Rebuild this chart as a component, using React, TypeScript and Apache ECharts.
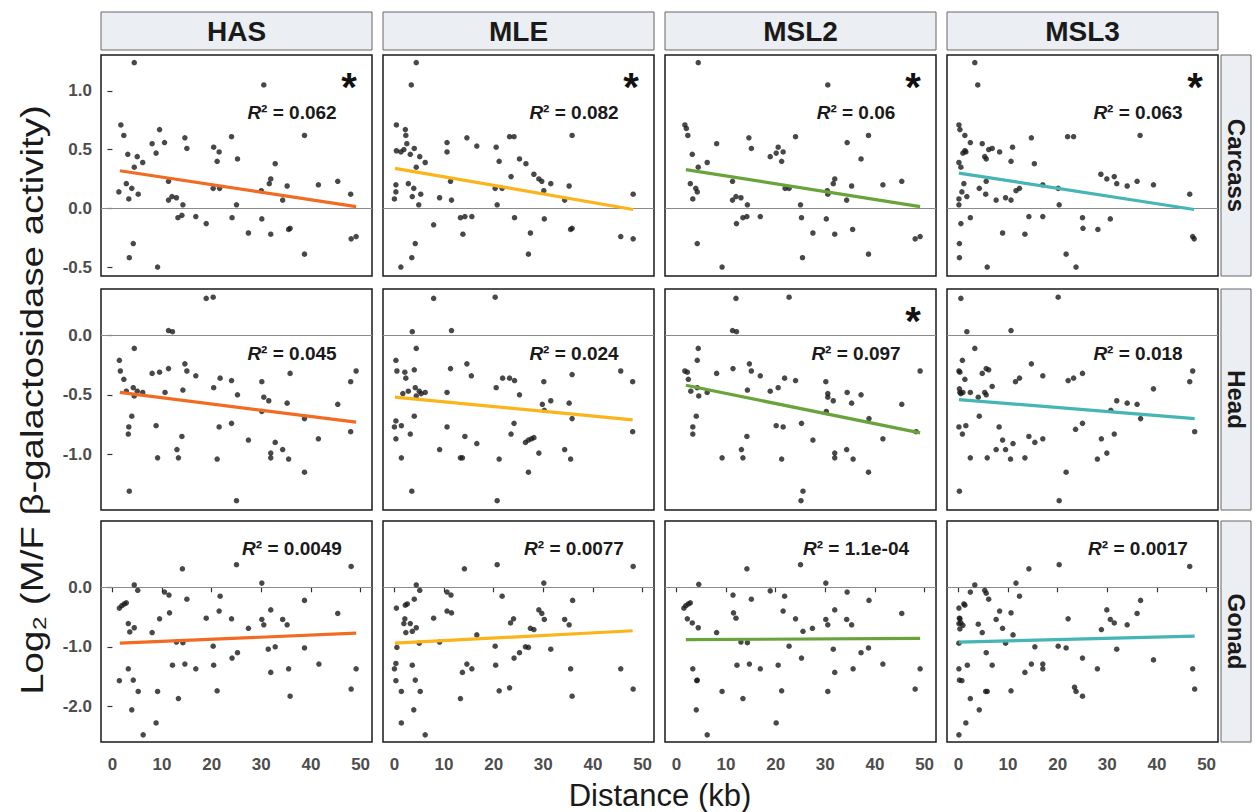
import React, { useEffect, useRef } from "react";
import * as echarts from "echarts";

const COLS = ["HAS", "MLE", "MSL2", "MSL3"];
const ROWS = ["Carcass", "Head", "Gonad"];
const COLORS = ["#f26b23", "#fbb419", "#68a43a", "#45b5b5"];

const X_TICKS = [0, 10, 20, 30, 40, 50];
const X_RANGE = [-2.3, 52.3];
const Y_RANGES = [[-0.576, 1.305], [-1.468, 0.389], [-2.6, 1.114]];
const Y_TICKS = [[-0.5, 0, 0.5, 1.0], [-1.0, -0.5, 0], [-2, -1, 0]];

const R2_LABELS = [
  ["0.062", "0.082", "0.06", "0.063"],
  ["0.045", "0.024", "0.097", "0.018"],
  ["0.0049", "0.0077", "1.1e-04", "0.0017"],
];
const SIGNIFICANT = [
  [true, true, true, true],
  [false, false, true, false],
  [false, false, false, false],
];

// fitted lines: [x0, y0, x1, y1]
const FITS = [
  [[1.5, 0.32, 49.1, 0.014], [0.1, 0.34, 48.1, -0.01], [1.9, 0.33, 49.1, 0.014], [0.1, 0.30, 47.5, -0.01]],
  [[1.5, -0.48, 49.1, -0.73], [0.1, -0.52, 48.0, -0.71], [1.9, -0.42, 49.1, -0.82], [0.1, -0.54, 47.6, -0.70]],
  [[1.5, -0.94, 49.1, -0.77], [0.1, -0.94, 48.0, -0.73], [1.9, -0.88, 49.1, -0.86], [0.1, -0.92, 47.6, -0.82]],
];

const HAS_CARCASS = [[4.4,1.24],[30.5,1.05],[1.7,0.71],[2.3,0.62],[9.5,0.67],[38.7,0.62],[8.0,0.55],[10.5,0.56],[14.6,0.60],[15.0,0.51],[8.8,0.47],[3.1,0.46],[5.0,0.44],[6.1,0.39],[4.4,0.35],[20.4,0.52],[21.5,0.48],[21.1,0.40],[24.0,0.61],[25.2,0.42],[32.8,0.38],[2.8,0.21],[11.3,0.23],[31.9,0.25],[31.6,0.21],[1.3,0.14],[3.9,0.17],[3.3,0.08],[5.2,0.12],[20.3,0.17],[21.6,0.17],[30.0,0.15],[35.2,0.19],[41.5,0.20],[45.4,0.23],[48.0,0.12],[34.3,0.07],[11.3,0.07],[12.0,0.10],[12.9,0.09],[14.2,0.03],[25.0,0.03],[13.2,-0.08],[14.0,-0.06],[16.8,-0.07],[18.9,-0.13],[24.1,-0.08],[30.1,-0.09],[27.4,-0.21],[31.9,-0.22],[35.5,-0.18],[35.8,-0.17],[48.1,-0.26],[49.1,-0.24],[4.2,-0.30],[3.4,-0.42],[9.1,-0.50],[38.7,-0.39]];

const MLE_CARCASS = [[4.4,1.24],[3.4,1.05],[0.4,0.71],[2.2,0.67],[2.3,0.62],[2.5,0.55],[0.4,0.49],[1.3,0.48],[1.9,0.50],[3.2,0.46],[4.0,0.51],[5.1,0.44],[6.2,0.39],[4.4,0.35],[10.6,0.56],[10.6,0.48],[14.6,0.60],[16.6,0.53],[20.5,0.52],[21.1,0.40],[23.2,0.61],[24.1,0.61],[25.2,0.42],[26.5,0.38],[23.5,0.27],[28.1,0.29],[29.1,0.25],[29.7,0.23],[31.5,0.21],[35.8,0.62],[35.2,0.19],[30.1,0.15],[34.3,0.07],[20.3,0.17],[21.7,0.17],[20.7,0.03],[11.3,0.23],[2.8,0.21],[0.3,0.20],[0.3,0.14],[3.9,0.17],[3.6,0.10],[5.3,0.12],[0.0,0.08],[4.9,0.03],[9.1,0.09],[11.5,0.07],[7.9,-0.14],[13.3,-0.08],[14.2,-0.07],[15.6,-0.07],[13.8,-0.22],[24.2,-0.08],[30.2,-0.09],[27.4,-0.21],[35.5,-0.18],[35.8,-0.17],[27.0,-0.39],[45.6,-0.24],[48.1,-0.26],[48.1,0.12],[4.2,-0.30],[3.5,-0.42],[1.3,-0.50]];

const MSL2_CARCASS = [[4.4,1.24],[30.5,1.05],[1.7,0.71],[2.0,0.68],[2.3,0.62],[38.7,0.62],[8.1,0.55],[14.6,0.60],[15.1,0.51],[24.0,0.61],[34.4,0.56],[3.2,0.46],[6.2,0.39],[4.4,0.35],[18.9,0.44],[20.1,0.47],[20.5,0.52],[21.5,0.48],[21.2,0.40],[37.2,0.42],[2.8,0.21],[11.3,0.23],[31.9,0.25],[31.6,0.21],[3.9,0.17],[4.2,0.14],[3.3,0.08],[21.9,0.17],[22.7,0.17],[30.4,0.15],[30.5,0.12],[35.3,0.19],[41.6,0.20],[45.4,0.23],[34.3,0.07],[11.3,0.07],[12.0,0.10],[13.0,0.09],[14.3,0.03],[25.0,0.03],[12.1,-0.13],[13.4,-0.08],[14.2,-0.07],[16.9,-0.07],[25.2,-0.08],[30.2,-0.09],[27.5,-0.21],[31.9,-0.22],[35.5,-0.18],[48.1,-0.26],[49.1,-0.24],[4.2,-0.30],[9.2,-0.50],[38.7,-0.39],[25.4,-0.42]];

const MSL3_CARCASS = [[3.3,1.24],[3.9,1.05],[0.1,0.71],[0.3,0.67],[1.3,0.62],[2.4,0.56],[4.8,0.55],[36.6,0.62],[0.1,0.39],[0.5,0.35],[0.9,0.47],[1.3,0.49],[1.5,0.48],[5.3,0.44],[5.6,0.42],[6.1,0.50],[6.8,0.51],[8.3,0.48],[10.9,0.52],[10.6,0.40],[14.7,0.60],[15.3,0.38],[22.0,0.61],[23.2,0.61],[28.7,0.29],[29.9,0.25],[31.4,0.27],[31.9,0.21],[34.0,0.19],[36.0,0.23],[39.3,0.20],[1.1,0.21],[5.6,0.23],[0.7,0.14],[1.7,0.10],[0.1,0.08],[0.1,0.03],[4.2,0.17],[5.5,0.12],[7.6,0.07],[9.5,0.09],[10.6,0.07],[11.6,0.15],[12.3,0.17],[17.0,0.20],[20.1,0.17],[20.3,0.03],[46.6,0.12],[2.4,-0.08],[0.5,-0.13],[8.9,-0.21],[13.4,-0.22],[14.2,-0.07],[17.0,-0.07],[25.0,-0.08],[25.1,-0.17],[28.1,-0.18],[30.6,-0.09],[21.7,-0.39],[23.7,-0.50],[5.8,-0.50],[0.2,-0.30],[0.2,-0.42],[47.2,-0.24],[47.5,-0.26]];

const HAS_HEAD = [[18.9,0.31],[20.3,0.32],[11.3,0.04],[12.1,0.03],[4.4,-0.11],[1.4,-0.21],[1.6,-0.30],[2.3,-0.37],[2.8,-0.47],[4.2,-0.44],[4.4,-0.51],[5.0,-0.47],[6.1,-0.48],[8.0,-0.32],[9.5,-0.31],[11.3,-0.28],[14.6,-0.24],[15.0,-0.30],[16.8,-0.34],[10.6,-0.48],[14.2,-0.46],[20.4,-0.44],[21.7,-0.36],[24.0,-0.38],[25.2,-0.50],[30.1,-0.39],[30.5,-0.52],[31.5,-0.55],[35.8,-0.32],[35.2,-0.57],[48.0,-0.39],[49.1,-0.30],[45.4,-0.58],[38.7,-0.70],[3.9,-0.68],[3.3,-0.77],[3.2,-0.83],[8.8,-0.76],[14.0,-0.85],[13.0,-0.96],[9.1,-1.03],[13.3,-1.03],[21.5,-0.77],[24.0,-0.74],[21.1,-1.04],[27.4,-0.88],[32.8,-0.90],[31.9,-0.99],[31.9,-1.03],[34.3,-0.96],[35.5,-1.04],[41.5,-0.87],[48.0,-0.81],[38.7,-1.15],[3.4,-1.31],[25.0,-1.39],[30.1,-0.64]];

const MLE_HEAD = [[7.9,0.31],[20.3,0.32],[3.6,0.03],[11.5,0.04],[4.4,-0.11],[0.3,-0.21],[0.5,-0.30],[2.1,-0.31],[2.3,-0.36],[4.0,-0.29],[1.7,-0.49],[2.8,-0.47],[4.2,-0.44],[4.4,-0.51],[5.0,-0.47],[5.4,-0.49],[6.2,-0.48],[11.3,-0.28],[14.6,-0.24],[15.5,-0.34],[10.6,-0.48],[20.5,-0.44],[21.8,-0.36],[23.2,-0.36],[24.2,-0.38],[25.2,-0.50],[30.1,-0.39],[29.8,-0.58],[31.5,-0.55],[35.8,-0.33],[35.2,-0.57],[45.6,-0.30],[48.0,-0.39],[35.8,-0.70],[48.0,-0.81],[0.3,-0.72],[0.0,-0.77],[1.4,-0.76],[0.3,-0.87],[3.2,-0.83],[4.0,-0.68],[10.6,-0.77],[14.2,-0.85],[16.6,-0.91],[9.1,-0.96],[13.3,-1.03],[13.7,-1.03],[21.1,-1.04],[23.5,-0.83],[24.1,-0.74],[26.4,-0.90],[27.0,-0.88],[27.6,-0.87],[28.1,-0.86],[29.1,-0.99],[34.3,-0.96],[35.5,-1.04],[27.0,-1.15],[1.4,-1.03],[3.5,-1.31],[20.7,-1.39],[30.2,-0.63]];

const MSL2_HEAD = [[12.0,0.31],[22.7,0.32],[11.3,0.04],[12.1,0.03],[4.4,-0.11],[4.2,-0.21],[1.7,-0.30],[2.2,-0.31],[2.4,-0.37],[2.9,-0.47],[4.2,-0.44],[4.5,-0.51],[6.2,-0.48],[8.1,-0.32],[11.4,-0.28],[14.7,-0.24],[15.1,-0.30],[16.9,-0.34],[14.3,-0.46],[18.9,-0.47],[20.5,-0.44],[21.8,-0.36],[24.0,-0.38],[25.2,-0.74],[30.1,-0.39],[30.5,-0.49],[30.5,-0.52],[31.6,-0.55],[34.4,-0.48],[35.3,-0.57],[37.2,-0.50],[49.1,-0.30],[45.4,-0.58],[38.8,-0.70],[4.0,-0.68],[3.3,-0.77],[3.3,-0.83],[14.2,-0.85],[13.1,-0.96],[9.2,-1.03],[13.4,-1.03],[20.1,-0.76],[21.5,-0.77],[27.5,-0.88],[31.9,-0.99],[31.9,-1.03],[34.3,-0.96],[35.6,-1.04],[21.2,-1.04],[41.6,-0.87],[48.3,-0.81],[38.7,-1.15],[25.5,-1.31],[25.1,-1.39],[30.2,-0.64]];

const MSL3_HEAD = [[0.5,0.31],[20.1,0.32],[1.7,0.03],[10.6,0.04],[3.3,-0.11],[0.8,-0.21],[0.1,-0.30],[0.3,-0.31],[1.3,-0.37],[0.2,-0.45],[0.3,-0.48],[0.5,-0.49],[0.9,-0.48],[2.4,-0.48],[4.0,-0.52],[4.8,-0.32],[5.6,-0.28],[6.1,-0.29],[5.3,-0.48],[5.6,-0.50],[6.8,-0.43],[11.5,-0.39],[12.3,-0.36],[14.7,-0.24],[17.0,-0.34],[22.1,-0.38],[23.2,-0.36],[25.0,-0.32],[31.9,-0.55],[34.0,-0.57],[36.0,-0.58],[39.3,-0.45],[46.6,-0.39],[47.2,-0.30],[30.7,-0.63],[36.7,-0.70],[47.6,-0.81],[4.2,-0.68],[0.1,-0.77],[1.5,-0.76],[0.8,-0.83],[8.2,-0.77],[8.9,-0.88],[7.6,-0.96],[9.5,-0.96],[11.0,-0.91],[14.2,-0.85],[15.4,-0.90],[17.0,-0.87],[23.6,-0.79],[25.0,-0.74],[28.8,-0.87],[31.4,-0.83],[2.4,-1.03],[5.8,-1.03],[10.5,-1.04],[13.4,-1.03],[28.0,-1.04],[29.9,-0.99],[21.7,-1.15],[0.2,-1.31],[20.3,-1.39]];

const HAS_GONAD = [[4.4,0.04],[5.1,-0.05],[1.4,-0.35],[1.9,-0.31],[2.4,-0.28],[2.8,-0.26],[3.2,-0.61],[3.5,-0.75],[4.4,-0.68],[8.0,-0.76],[9.5,-0.53],[10.5,-0.08],[11.4,-0.13],[11.5,-0.43],[14.1,0.31],[15.0,-0.20],[12.9,-0.92],[14.2,-0.93],[18.9,-0.52],[21.5,-0.40],[21.7,-0.15],[24.0,-0.53],[25.0,0.38],[30.1,0.07],[30.1,-0.54],[30.5,-0.63],[31.9,-0.38],[27.4,-0.69],[34.3,-0.54],[35.2,-0.63],[38.7,-0.22],[45.4,-0.44],[48.1,0.35],[20.3,-0.99],[31.4,-1.04],[32.8,-1.00],[38.7,-1.02],[24.1,-1.19],[25.2,-1.10],[20.4,-1.31],[12.1,-1.31],[14.6,-1.29],[16.8,-1.37],[3.2,-1.37],[1.4,-1.57],[4.2,-1.56],[5.2,-1.75],[9.1,-1.75],[13.3,-1.87],[21.1,-1.74],[31.9,-1.43],[35.5,-1.37],[35.8,-1.83],[41.6,-1.29],[49.1,-1.37],[48.1,-1.71],[3.9,-2.06],[8.8,-2.28],[6.2,-2.48]];

const MLE_GONAD = [[4.4,0.04],[5.1,-0.05],[0.4,-0.35],[2.2,-0.30],[2.6,-0.28],[4.0,-0.20],[1.9,-0.61],[2.3,-0.76],[2.1,-0.53],[3.2,-0.61],[3.6,-0.74],[4.4,-0.68],[7.9,-0.52],[10.6,-0.08],[11.4,-0.13],[10.6,-0.40],[11.5,-0.43],[14.1,0.31],[16.6,-0.80],[20.7,0.38],[21.7,-0.15],[23.4,-0.60],[24.0,-0.53],[27.4,-0.69],[28.1,-0.71],[29.1,-0.38],[29.7,-0.44],[30.2,-0.54],[30.1,0.07],[34.3,-0.54],[35.2,-0.63],[35.9,-0.22],[48.1,0.35],[0.5,-1.01],[5.0,-0.94],[9.1,-0.92],[20.3,-0.99],[24.1,-1.19],[25.2,-1.10],[26.4,-1.00],[27.0,-1.01],[31.5,-1.04],[0.3,-1.28],[0.0,-1.37],[3.6,-1.31],[4.2,-1.56],[0.3,-1.57],[1.4,-1.75],[5.2,-1.75],[13.7,-1.43],[14.6,-1.29],[15.6,-1.37],[20.4,-1.31],[13.3,-1.87],[21.1,-1.74],[23.2,-1.69],[35.5,-1.37],[35.8,-1.83],[45.6,-1.37],[48.1,-1.71],[3.9,-2.06],[1.4,-2.28],[6.2,-2.48]];

const MSL2_GONAD = [[4.5,0.05],[1.5,-0.35],[1.9,-0.31],[2.4,-0.28],[2.8,-0.26],[2.2,-0.53],[3.2,-0.60],[4.4,-0.68],[8.1,-0.76],[11.4,-0.13],[11.5,-0.43],[12.0,-0.52],[14.2,0.31],[15.1,-0.20],[18.9,-0.06],[21.8,-0.15],[21.5,-0.40],[24.0,-0.53],[25.0,0.38],[30.1,0.07],[30.1,-0.54],[30.5,-0.63],[31.9,-0.38],[25.5,-0.74],[27.4,-0.69],[34.4,-0.08],[34.3,-0.54],[35.3,-0.63],[38.8,-0.22],[45.4,-0.44],[13.0,-0.92],[14.3,-0.93],[22.7,-0.99],[31.6,-1.04],[37.2,-1.10],[38.7,-1.02],[25.2,-1.19],[12.2,-1.31],[14.7,-1.29],[16.9,-1.37],[20.5,-1.31],[3.3,-1.37],[4.2,-1.56],[4.1,-1.57],[9.2,-1.75],[13.4,-1.87],[21.2,-1.74],[30.5,-1.75],[31.9,-1.43],[35.6,-1.37],[41.6,-1.29],[49.1,-1.37],[48.1,-1.71],[4.0,-2.06],[20.1,-2.28],[6.2,-2.48]];

const MSL3_GONAD = [[3.3,0.04],[2.4,-0.08],[5.3,-0.05],[5.6,-0.10],[6.1,-0.20],[0.1,-0.35],[1.1,-0.28],[1.3,-0.30],[0.2,-0.52],[0.3,-0.53],[0.1,-0.61],[0.5,-0.60],[0.9,-0.64],[0.3,-0.70],[4.0,-0.62],[4.8,-0.76],[8.3,-0.40],[7.6,-0.54],[8.9,-0.69],[10.6,-0.43],[11.6,0.07],[12.3,-0.15],[11.0,-0.80],[14.2,0.31],[20.3,0.38],[22.1,-0.53],[15.4,-1.00],[20.1,-0.99],[21.7,-1.02],[25.0,-1.19],[28.8,-0.71],[29.9,-0.38],[30.6,-0.54],[31.4,-0.60],[34.0,-0.63],[36.0,-0.44],[36.7,-0.22],[31.9,-1.04],[39.3,-1.22],[46.6,0.35],[0.1,-0.94],[9.5,-0.94],[5.6,-1.10],[6.8,-1.31],[1.8,-1.31],[0.1,-1.37],[0.2,-1.56],[0.7,-1.57],[5.8,-1.75],[5.5,-1.75],[10.6,-1.74],[13.4,-1.43],[14.7,-1.29],[17.0,-1.29],[17.0,-1.37],[23.4,-1.68],[23.7,-1.75],[25.0,-1.83],[28.0,-1.37],[47.2,-1.37],[47.6,-1.71],[2.4,-1.87],[4.2,-2.06],[1.5,-2.28],[0.1,-2.48]];

const POINTS = [
  [HAS_CARCASS, MLE_CARCASS, MSL2_CARCASS, MSL3_CARCASS],
  [HAS_HEAD, MLE_HEAD, MSL2_HEAD, MSL3_HEAD],
  [HAS_GONAD, MLE_GONAD, MSL2_GONAD, MSL3_GONAD],
];

const FONT = "'Liberation Sans', Arial, Helvetica, sans-serif";

export default function App() {
  const ref = useRef<HTMLDivElement>(null);
  useEffect(() => {
    const chart = echarts.init(ref.current!, null, { renderer: "svg" });
    const COL_LEFT = [101, 383, 665, 947];
    const ROW_TOP = [55, 289, 521];
    const GW = 271;
    const GH = 221;
    const grids: any[] = [];
    const xAxes: any[] = [];
    const yAxes: any[] = [];
    const series: any[] = [];
    const graphics: any[] = [];

    ROWS.forEach((rowName, r) => {
      COLS.forEach((colName, c) => {
        const idx = r * 4 + c;
        grids.push({
          left: COL_LEFT[c], top: ROW_TOP[r], width: GW, height: GH,
          show: true, borderColor: "#1a1a1a", borderWidth: 1.5, backgroundColor: "#ffffff",
        });
        xAxes.push({
          type: "value", gridIndex: idx, min: X_RANGE[0], max: X_RANGE[1],
          axisLine: { show: false }, splitLine: { show: false },
          axisTick: { show: r === 2, customValues: X_TICKS, length: 5, lineStyle: { color: "#333", width: 1.2 } },
          axisLabel: {
            show: r === 2, customValues: X_TICKS, color: "#4d4d4d", fontSize: 17,
            fontWeight: "bold", fontFamily: FONT, margin: 14,
          },
        });
        yAxes.push({
          type: "value", gridIndex: idx, min: Y_RANGES[r][0], max: Y_RANGES[r][1],
          axisLine: { show: false }, splitLine: { show: false },
          axisTick: { show: c === 0, customValues: Y_TICKS[r], length: 5, lineStyle: { color: "#333", width: 1.2 } },
          axisLabel: {
            show: c === 0, customValues: Y_TICKS[r], color: "#4d4d4d", fontSize: 17,
            fontWeight: "bold", fontFamily: FONT, margin: 9,
            formatter: (v: number) => v.toFixed(1),
          },
        });
        series.push({
          type: "scatter", xAxisIndex: idx, yAxisIndex: idx, data: POINTS[r][c],
          symbolSize: 5.5, itemStyle: { color: "#1a1a1a" }, z: 3,
          markLine: {
            silent: true, symbol: "none", label: { show: false },
            lineStyle: { color: "#8a8a8a", width: 1.2, type: "solid" },
            data: [{ yAxis: 0 }], z: 1,
          },
        });
        const f = FITS[r][c];
        series.push({
          type: "line", xAxisIndex: idx, yAxisIndex: idx,
          data: [[f[0], f[1]], [f[2], f[3]]], symbol: "none",
          lineStyle: { color: COLORS[c], width: 3.2 }, z: 4,
        });
        const yR = [112, 353, 548][r];
        graphics.push({
          type: "text", x: COL_LEFT[c] + 191, y: yR, z: 10,
          style: {
            text: `{i|R}{b|\u00b2 = ${R2_LABELS[r][c]}}`,
            textAlign: "center", textVerticalAlign: "middle",
            rich: {
              i: { fontSize: 19, fontWeight: "bold", fontStyle: "italic", fontFamily: FONT, fill: "#1a1a1a" },
              b: { fontSize: 19, fontWeight: "bold", fontFamily: FONT, fill: "#1a1a1a" },
            },
          },
        });
        if (SIGNIFICANT[r][c]) {
          graphics.push({
            type: "text", x: COL_LEFT[c] + 248, y: ROW_TOP[r] + 32, z: 10,
            style: {
              text: "*", fontSize: 40, fontWeight: "bold", fontFamily: FONT,
              fill: "#111", textAlign: "center", textVerticalAlign: "middle",
            },
          });
        }
      });
    });

    COLS.forEach((name, c) => {
      graphics.push({
        type: "rect", shape: { x: COL_LEFT[c], y: 12, width: GW, height: 38 },
        style: { fill: "#ebeef2", stroke: "#666", lineWidth: 1 }, z: 5,
      });
      graphics.push({
        type: "text", x: COL_LEFT[c] + GW / 2, y: 31, z: 6,
        style: {
          text: name, fontSize: 28, fontWeight: "bold", fontFamily: FONT, fill: "#1a1a1a",
          textAlign: "center", textVerticalAlign: "middle",
        },
      });
    });
    ROWS.forEach((name, r) => {
      graphics.push({
        type: "rect", shape: { x: 1221, y: ROW_TOP[r], width: 30, height: GH },
        style: { fill: "#ebeef2", stroke: "#666", lineWidth: 1 }, z: 5,
      });
      graphics.push({
        type: "text", x: 1236, y: ROW_TOP[r] + GH / 2, rotation: -Math.PI / 2, z: 6,
        style: {
          text: name, fontSize: 24, fontWeight: "bold", fontFamily: FONT, fill: "#1a1a1a",
          textAlign: "center", textVerticalAlign: "middle",
        },
      });
    });
    graphics.push({
      type: "text", x: 32, y: 400, rotation: Math.PI / 2, scaleX: 1.2, z: 6,
      style: {
        text: "Log\u2082 (M/F \u03b2-galactosidase activity)", fontSize: 32, fontFamily: FONT, fill: "#1a1a1a",
        textAlign: "center", textVerticalAlign: "middle",
      },
    });
    graphics.push({
      type: "text", x: 660, y: 795, z: 6,
      style: {
        text: "Distance (kb)", fontSize: 31, fontFamily: FONT, fill: "#1a1a1a",
        textAlign: "center", textVerticalAlign: "middle",
      },
    });

    chart.setOption({
      animation: false,
      backgroundColor: "#ffffff",
      grid: grids,
      xAxis: xAxes,
      yAxis: yAxes,
      series,
      graphic: graphics,
    });
    return () => chart.dispose();
  }, []);
  return (
    <div
      ref={ref}
      style={{ position: "fixed", left: 0, top: 0, width: 1258, height: 812, background: "#fff" }}
    />
  );
}
